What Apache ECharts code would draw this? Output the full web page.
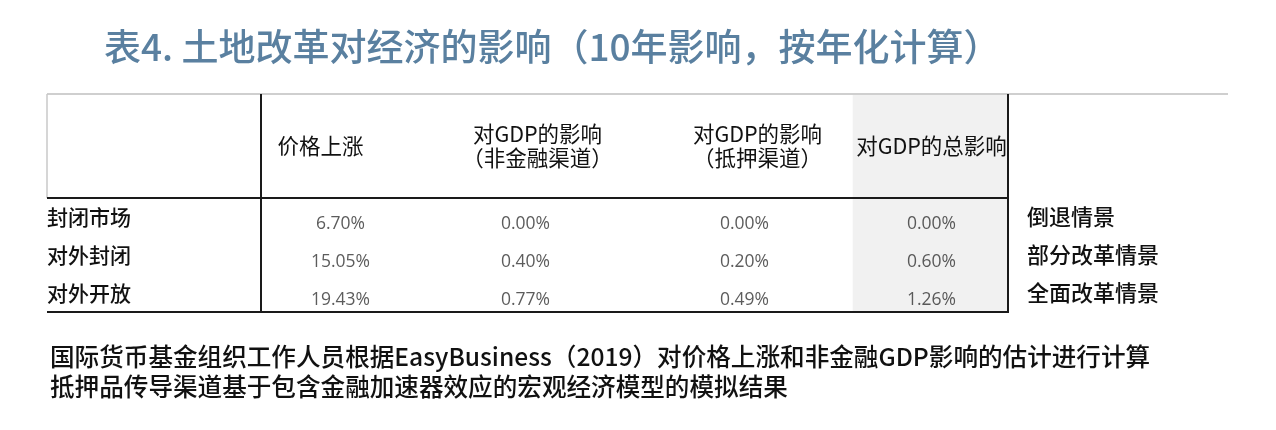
<!DOCTYPE html>
<html>
<head>
<meta charset="utf-8">
<script src="https://cdn.jsdelivr.net/npm/echarts@6/dist/echarts.min.js"></script>
<style>
html,body{margin:0;padding:0;background:#fff;}
#chart{width:1276px;height:430px;}
</style>
</head>
<body>
<div id="chart"></div>
<script>
// ---- data ----
var titleText = '表4. 土地改革对经济的影响（10年影响，按年化计算）';
var columns = ['价格上涨', '对GDP的影响\n（非金融渠道）', '对GDP的影响\n（抵押渠道）', '对GDP的总影响'];
var rows = ['封闭市场', '对外封闭', '对外开放'];
var scenarios = ['倒退情景', '部分改革情景', '全面改革情景'];
var priceRise = [6.70, 15.05, 19.43];
var gdpNonFinancial = [0.00, 0.40, 0.77];
var gdpCollateral = [0.00, 0.20, 0.49];
var gdpTotal = [0.00, 0.60, 1.26];
var footnoteLines = [
  '国际货币基金组织工作人员根据EasyBusiness（2019）对价格上涨和非金融GDP影响的估计进行计算',
  '抵押品传导渠道基于包含金融加速器效应的宏观经济模型的模拟结果'
];

// ---- styling ----
var CJK = '"Noto Sans CJK SC", "Noto Sans", sans-serif';
var colValues = [priceRise, gdpNonFinancial, gdpCollateral, gdpTotal];
var colLabelOffsets = [[0, 7], [-12, 7], [10, 7], [0, 7]];
var headerPads = [[0, 40, 0, 0], [0, 0, 0, 0], [0, 0, 0, 46], [0, 0, 0, 0]];

var chart = echarts.init(document.getElementById('chart'));

var series = [];
// gray background of the total column
series.push({
  type: 'custom',
  silent: true,
  clip: false,
  z: 0,
  data: [[3, 0]],
  renderItem: function (params, api) {
    var c = api.coord([api.value(0), 0]);
    var bw = api.size([1, 0])[0];
    var top = params.coordSys.y;
    var bottom = params.coordSys.y + params.coordSys.height;
    return {
      type: 'rect',
      shape: { x: c[0] - bw * 0.40, y: top - 104, width: bw * 0.79, height: bottom - top + 104 },
      style: { fill: '#f1f1f1' }
    };
  }
});
colValues.forEach(function (vals, ci) {
  series.push({
    type: 'scatter',
    z: 5,
    symbolSize: 1,
    itemStyle: { color: 'rgba(0,0,0,0)' },
    data: vals.map(function (v, ri) { return [ci, ri, v]; }),
    label: {
      show: true,
      position: 'inside',
      offset: colLabelOffsets[ci],
      formatter: function (p) { return p.value[2].toFixed(2) + '%'; },
      fontFamily: '"Open Sans", "Noto Sans", sans-serif',
      fontSize: 17.5,
      color: '#333333'
    }
  });
});

var lineStyleBlack = { stroke: '#1a1a1a', lineWidth: 2 };
var hdr = { fontFamily: CJK, fontSize: 21.5, color: '#111', lineHeight: 24 };
var option = {
  backgroundColor: '#ffffff',
  animation: false,
  title: [{
    text: titleText,
    left: 99,
    top: 23,
    textStyle: { fontFamily: CJK, fontSize: 37, fontWeight: 500, color: '#5a80a0' }
  }, {
    text: footnoteLines.join('\n'),
    left: 45,
    top: 337,
    textStyle: { fontFamily: CJK, fontSize: 24.6, fontWeight: 500, color: '#111', lineHeight: 30 }
  }],
  grid: { left: 242, right: 246, top: 198, bottom: 118 },
  xAxis: {
    type: 'category',
    position: 'top',
    data: columns,
    axisLine: { show: false },
    axisTick: { show: false },
    splitLine: { show: false },
    axisLabel: {
      margin: 52,
      verticalAlign: 'middle',
      interval: 0,
      formatter: function (v, i) {
        return v.split('\n').map(function (s) { return '{h' + i + '|' + s + '}'; }).join('\n');
      },
      rich: {
        h0: Object.assign({ padding: headerPads[0] }, hdr),
        h1: Object.assign({ padding: headerPads[1] }, hdr),
        h2: Object.assign({ padding: headerPads[2] }, hdr),
        h3: Object.assign({ padding: headerPads[3] }, hdr)
      }
    }
  },
  yAxis: [{
    type: 'category',
    data: rows,
    inverse: true,
    axisLine: { show: false },
    axisTick: { show: false },
    splitLine: { show: false },
    axisLabel: { align: 'left', margin: 195, fontFamily: CJK, fontSize: 21, fontWeight: 500, color: '#111' }
  }, {
    type: 'category',
    data: scenarios,
    inverse: true,
    position: 'right',
    axisLine: { show: false },
    axisTick: { show: false },
    splitLine: { show: false },
    axisLabel: { align: 'left', margin: -3, fontFamily: CJK, fontSize: 22, fontWeight: 500, color: '#111' }
  }],
  graphic: [
    { type: 'line', shape: { x1: 47, y1: 94, x2: 1228, y2: 94 }, style: { stroke: '#cfcfcf', lineWidth: 2 }, z: 10 },
    { type: 'line', shape: { x1: 47, y1: 94, x2: 47, y2: 198 }, style: { stroke: '#c8c8c8', lineWidth: 1.5 }, z: 10 },
    { type: 'line', shape: { x1: 261, y1: 94, x2: 261, y2: 313 }, style: lineStyleBlack, z: 10 },
    { type: 'line', shape: { x1: 1008, y1: 94, x2: 1008, y2: 313 }, style: lineStyleBlack, z: 10 },
    { type: 'line', shape: { x1: 47, y1: 198, x2: 1008, y2: 198 }, style: lineStyleBlack, z: 10 },
    { type: 'line', shape: { x1: 47, y1: 312, x2: 1008, y2: 312 }, style: lineStyleBlack, z: 10 }
  ],
  series: series
};
chart.setOption(option);
</script>
</body>
</html>
